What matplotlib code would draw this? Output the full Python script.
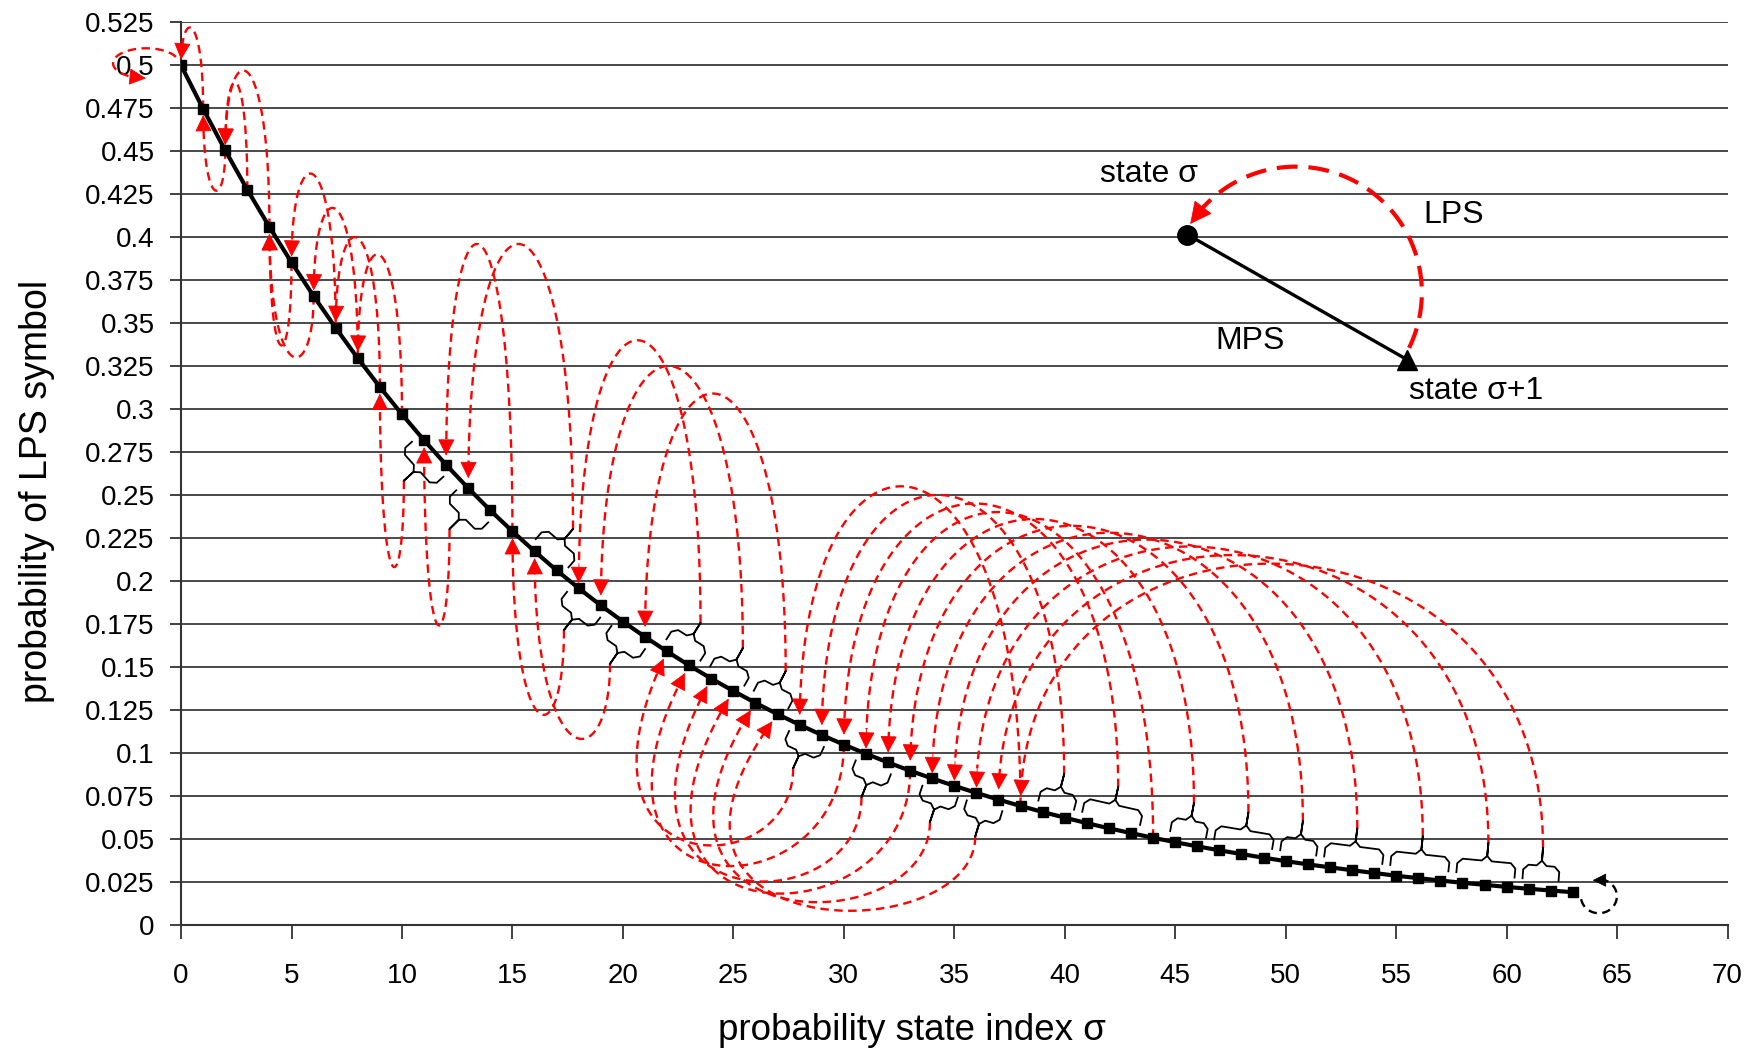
import numpy as np
import matplotlib.pyplot as plt
from matplotlib.ticker import FuncFormatter

plt.rcParams['font.family'] = ['Liberation Sans', 'DejaVu Sans']

# --- data ---
state_idx = list(range(64))
p_lps = [0.5000, 0.4746, 0.4505, 0.4276, 0.4059, 0.3853, 0.3657, 0.3472,
         0.3295, 0.3128, 0.2969, 0.2818, 0.2675, 0.2539, 0.2410, 0.2288,
         0.2172, 0.2061, 0.1957, 0.1857, 0.1763, 0.1674, 0.1589, 0.1508,
         0.1431, 0.1359, 0.1290, 0.1224, 0.1162, 0.1103, 0.1047, 0.0994,
         0.0943, 0.0895, 0.0850, 0.0807, 0.0766, 0.0727, 0.0690, 0.0655,
         0.0622, 0.0590, 0.0560, 0.0532, 0.0505, 0.0479, 0.0455, 0.0432,
         0.0410, 0.0389, 0.0369, 0.0350, 0.0333, 0.0316, 0.0300, 0.0284,
         0.0270, 0.0256, 0.0243, 0.0231, 0.0219, 0.0208, 0.0198, 0.0188]

# state reached after an LPS
next_lps = [0, 0, 1, 2, 2, 4, 4, 5, 6, 7, 8, 9, 9, 11, 11, 12,
            13, 13, 15, 15, 16, 16, 18, 18, 19, 19, 21, 21, 22, 22, 23, 24,
            24, 25, 26, 26, 27, 27, 28, 29, 29, 30, 30, 30, 31, 32, 32, 33,
            33, 33, 34, 34, 35, 35, 35, 36, 36, 36, 37, 37, 37, 38, 38, 63]

# targets whose loop is drawn above the curve (the rest hang below it)
above_targets = [0, 2, 5, 6, 7, 8, 12, 13, 18, 19, 21,
                 28, 29, 30, 31, 32, 33, 34, 35, 36, 37, 38]

# top (or bottom) of each loop, one value per arc from left to right
loop_level = [0.522, 0.427, 0.490, 0.497, 0.337, 0.330, 0.437, 0.417, 0.400, 0.390,
              0.208, 0.174, 0.396, 0.396, 0.122, 0.108, 0.340, 0.325, 0.309,
              0.046, 0.034, 0.025, 0.018, 0.013, 0.008,
              0.255, 0.250, 0.245, 0.240, 0.236, 0.232, 0.228, 0.224, 0.220,
              0.215, 0.210]

x_ticks = list(range(0, 71, 5))
y_ticks = [i * 0.025 for i in range(22)]

# --- figure ---
fig = plt.figure(figsize=(17.51, 10.53), dpi=100)
ax = fig.add_axes([0.1034, 0.1220, 0.8832, 0.8568])
ax.set_xlim(0, 70)
ax.set_ylim(0, 0.525)
ax.set_xticks(x_ticks)
ax.set_yticks(y_ticks)
ax.yaxis.set_major_formatter(FuncFormatter(lambda v, pos: f'{round(v, 3):g}'))
ax.tick_params(axis='both', labelsize=20, direction='out', color='#333333', width=1.3)
ax.tick_params(axis='x', length=10, pad=18)
ax.tick_params(axis='y', length=8, pad=11)
for s in ['top', 'right']:
    ax.spines[s].set_visible(False)
for s in ['left', 'bottom']:
    ax.spines[s].set_color('#333333')
    ax.spines[s].set_linewidth(1.5)
ax.yaxis.grid(True, color='#4a4a4a', lw=1.4)
ax.set_axisbelow(True)

fig.text(912 / 1751, 1 - 1030 / 1053, 'probability state index σ',
         ha='center', va='center', fontsize=26.5)
fig.text(37 / 1751, 1 - 491 / 1053, 'probability of LPS symbol', rotation=90,
         ha='center', va='center', fontsize=27)

ax.plot(state_idx, p_lps, color='black', lw=3, marker='s', ms=6.5, zorder=5)

to_px = ax.transData.transform
to_data = ax.transData.inverted().transform


def px(i):
    return to_px((state_idx[i], p_lps[i]))


def draw_path(pts, color='red', lw=1.7, dashes=(3.6, 2.3), head=15, gap=5, clip=True):
    # dashed path in pixel coords, ending in a filled arrow head
    seg = np.hypot(*np.diff(pts, axis=0).T)
    from_end = np.concatenate([np.cumsum(seg[::-1])[::-1], [0]])
    tip = pts[from_end >= gap][-1]
    body = pts[from_end >= gap + head]
    d = to_data(body)
    ax.plot(d[:, 0], d[:, 1], color=color, lw=lw, dashes=dashes, clip_on=clip, zorder=3)
    ax.annotate('', xy=to_data(tip), xytext=to_data(body[-1]), annotation_clip=False,
                arrowprops=dict(arrowstyle='-|>,head_length=0.4,head_width=0.2',
                                color=color, lw=0.6, shrinkA=0, shrinkB=0,
                                mutation_scale=head / 1.389 / 0.4), zorder=7)


def bezier(p0, p1, p2, p3, n=200):
    t = np.linspace(0, 1, n)[:, None]
    return (1 - t) ** 3 * p0 + 3 * (1 - t) ** 2 * t * p1 + 3 * (1 - t) * t ** 2 * p2 + t ** 3 * p3


def ctrl_level(y0, y3, lev, up):
    t = np.linspace(0, 1, 201)
    a = (1 - t) ** 3 * y0 + t ** 3 * y3
    b = 3 * (1 - t) ** 2 * t + 3 * (1 - t) * t ** 2
    yc = (lev - a[100]) / 0.75
    for _ in range(40):
        ext = (a + yc * b).max() if up else (a + yc * b).min()
        yc += (lev - ext) / 0.75
    return yc


def brace(i0, i1, side):
    a, b = px(i0), px(i1)
    u = (b - a) / np.hypot(*(b - a))
    n = np.array([-u[1], u[0]]) * side
    mid = (a + b) / 2
    half = np.hypot(*(b - a)) / 2 + 7
    h0, h1, h2, c = 10, 24, 42, 5
    local = [(-half, h0), (-half, h1 - c), (-half + c, h1), (-c, h1), (0, h1 + c), (0, h2),
             (0, h1 + c), (c, h1), (half - c, h1), (half, h1 - c), (half, h0)]
    pts = np.array([mid + t * u + h * n for t, h in local])
    d = to_data(pts)
    ax.plot(d[:, 0], d[:, 1], color='black', lw=1.3, zorder=4, solid_joinstyle='round')
    return mid + h2 * n


# group the transitions: single loops below state 11, braced groups after
arcs = []
s = 1
while s < 63:
    tgt = next_lps[s]
    grp = [s] if s < 11 else [k for k in range(s, 63) if next_lps[k] == tgt]
    arcs.append((grp, tgt))
    s = grp[-1] + 1

for (grp, tgt), lev in zip(arcs, loop_level):
    side = 1 if tgt in above_targets else -1
    start = brace(grp[0], grp[-1], side) if len(grp) > 1 else px(grp[0])
    end = px(tgt)
    lev_px = to_px((0, lev))[1]
    yc = ctrl_level(start[1], end[1], lev_px, side > 0)
    span = start[0] - end[0]
    bulge = 0.9 * span if (side < 0 and span > 110) else 0
    pts = bezier(start, np.array([start[0], yc]), np.array([end[0] - bulge, yc]), end)
    draw_path(pts)

# self loop of state 0
c0 = px(0) + np.array([-35, 2])
ang = np.radians(np.linspace(25, 280, 150))
draw_path(c0 + np.column_stack([33 * np.cos(ang), 15 * np.sin(ang)]), clip=False)

# self loop of state 63
c63 = px(63) + np.array([26, -4])
ang = np.radians(np.linspace(190, 470, 150))
draw_path(c63 + np.column_stack([18 * np.cos(ang), 17 * np.sin(ang)]),
          color='black', head=12, gap=0, clip=False)

# --- explanation inset ---
node_a = (45.55, 0.4015)
node_b = (55.5, 0.3287)
ax.plot([node_a[0], node_b[0]], [node_a[1], node_b[1]], color='black', lw=2.4, zorder=5)
ax.plot(*node_a, 'o', color='black', ms=14, zorder=6)
ax.plot(*node_b, '^', color='black', ms=15, zorder=6)
cl = to_px((50.46, 0.3677))
ang = np.radians(np.linspace(-26, 147, 150))
draw_path(cl + np.column_stack([126 * np.cos(ang), 126 * np.sin(ang)]),
          lw=3, dashes=(5, 2.6), head=20, gap=0)
ax.text(43.8, 0.437, 'state σ', fontsize=23, ha='center', va='center')
ax.text(57.6, 0.413, 'LPS', fontsize=23, ha='center', va='center')
ax.text(48.4, 0.3397, 'MPS', fontsize=23, ha='center', va='center')
ax.text(58.6, 0.3104, 'state σ+1', fontsize=23, ha='center', va='center')

fig.savefig('out.png', dpi=100)
